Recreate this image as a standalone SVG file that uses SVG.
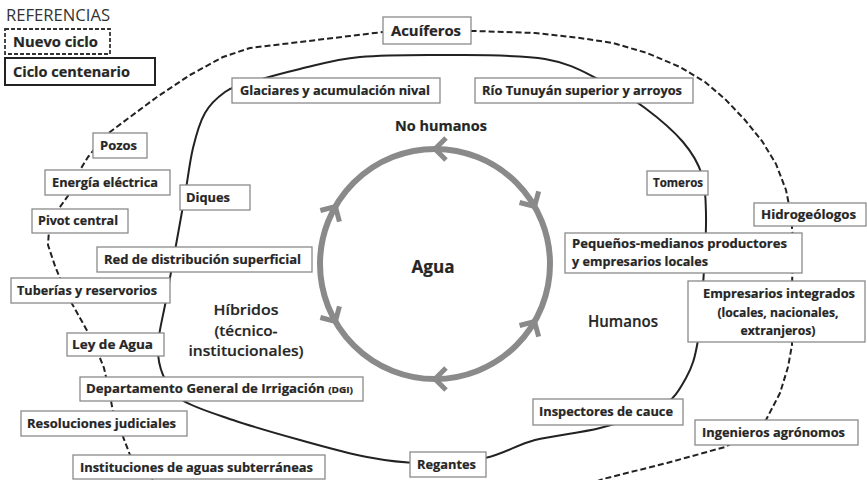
<svg xmlns="http://www.w3.org/2000/svg" width="867" height="480" viewBox="0 0 867 480">
<style>
.box{fill:#fff;stroke:#8a8a8a;stroke-width:1.3}
.t{font-family:"Open Sans","Noto Sans","DejaVu Sans",sans-serif;font-weight:700;font-size:12.5px;fill:#262626;stroke:#262626;stroke-width:0.2}
.big{font-size:15px;font-weight:600}
.solid{fill:none;stroke:#222;stroke-width:2}
.dash{fill:none;stroke:#222;stroke-width:2;stroke-dasharray:6 3;stroke-linejoin:round}
.chev{fill:none;stroke:#8a8a8a;stroke-width:5}
</style>
<defs>
<path id="chev" d="M 11,-11 L 0,0 L 11,11"/>
</defs>
<rect width="867" height="480" fill="#fff"/>

<g id="legend">
<text class="t" x="6" y="21" style="font-weight:400;font-size:16px;fill:#333;stroke:none" textLength="104" lengthAdjust="spacingAndGlyphs">REFERENCIAS</text>
<rect x="5" y="29" width="105" height="25" fill="#fff" stroke="#333" stroke-width="1.8" stroke-dasharray="4 2"/>
<text class="t" x="13" y="47" style="font-size:14.5px" textLength="85" lengthAdjust="spacingAndGlyphs">Nuevo ciclo</text>
<rect x="5" y="58" width="150" height="27" fill="#fff" stroke="#222" stroke-width="2"/>
<text class="t" x="13" y="77" style="font-size:14.5px" textLength="117" lengthAdjust="spacingAndGlyphs">Ciclo centenario</text>
</g>

<g id="connectors">
<path class="solid" d="M245,84 C257.5,80.2 280.8,73.5 300,69 C319.2,64.5 335,59.3 360,57 C385,54.7 419.2,54.7 450,55 C480.8,55.3 520,54.8 545,59 C570,63.2 583.3,71.8 600,80 C616.7,88.2 631.2,97.7 645,108 C658.8,118.3 673.5,130.8 683,142 C692.5,153.2 698.2,162.8 702,175 C705.8,187.2 705.7,199.2 706,215 C706.3,230.8 705.3,249.2 704,270 C702.7,290.8 701,322 698,340 C695,358 692.3,366.7 686,378 C679.7,389.3 674.3,399.7 660,408 C645.7,416.3 620.8,422.7 600,428 C579.2,433.3 554.2,435 535,440 C515.8,445 504.2,454.2 485,458 C465.8,461.8 439.7,463.2 420,463 C400.3,462.8 387,460.8 367,457 C347,453.2 322.3,446.2 300,440 C277.7,433.8 252.7,426.7 233,420 C213.3,413.3 193.7,407.5 182,400 C170.3,392.5 167,384.2 163,375 C159,365.8 157.5,357.5 158,345 C158.5,332.5 163,316.7 166,300 C169,283.3 172.8,262.5 176,245 C179.2,227.5 182.2,211.2 185,195 C187.8,178.8 189.7,161.7 193,148 C196.3,134.3 199.7,122.3 205,113 C210.3,103.7 218.3,96.8 225,92 C231.7,87.2 232.5,87.8 245,84 Z"/>
<polyline class="dash" points="160,492 148,474 130,455 122,434 113,412 110,395 104,368 94,343 80,318 66,293 55,266 48,245 49,230 55,214 70,193 80,170 88,157 98,145 110,132 130,117 157,97 190,75 223,57 250,48 300,42 350,36 383,32 430,30 475,31 535,33 580,38 613,43 647,53 680,67 705,82 725,99 745,120 762,141 776,164 786,190 791,215 793,240 792,290 792,345 788,367 780,393 766,420 745,436 725,447 667,463 603,479 560,495"/>
</g>

<g id="cycle">
<circle cx="435" cy="264" r="115" fill="none" stroke="#8a8a8a" stroke-width="6"/>
<use href="#chev" class="chev" transform="translate(435,149)"/>
<use href="#chev" class="chev" transform="translate(534.6,206.5) rotate(-120)"/>
<use href="#chev" class="chev" transform="translate(534.6,321.5) rotate(120)"/>
<use href="#chev" class="chev" transform="translate(435,379)"/>
<use href="#chev" class="chev" transform="translate(335.4,321.5) rotate(-120)"/>
<use href="#chev" class="chev" transform="translate(335.4,206.5) rotate(120)"/>
<text class="t" x="433" y="273" text-anchor="middle" style="font-size:18.5px" textLength="43" lengthAdjust="spacingAndGlyphs">Agua</text>
</g>

<g id="labels">
<text class="t" x="395" y="131" style="font-size:13.5px" textLength="92" lengthAdjust="spacingAndGlyphs">No humanos</text>
<text class="t big" x="246" y="315" text-anchor="middle" textLength="65" lengthAdjust="spacingAndGlyphs">Híbridos</text>
<text class="t big" x="246" y="336" text-anchor="middle" textLength="63" lengthAdjust="spacingAndGlyphs">(técnico-</text>
<text class="t big" x="246" y="356" text-anchor="middle" textLength="115" lengthAdjust="spacingAndGlyphs">institucionales)</text>
<text class="t" x="588" y="327" style="font-size:16px;font-weight:600" textLength="70" lengthAdjust="spacingAndGlyphs">Humanos</text>
</g>

<g id="acuiferos"><rect class="box" x="383" y="17" width="88" height="27"/><text class="t" x="391" y="36" style="font-size:14.5px" textLength="70" lengthAdjust="spacingAndGlyphs">Acuíferos</text></g>
<g id="glaciares"><rect class="box" x="232" y="78" width="208" height="25"/><text class="t" x="240" y="95" textLength="190" lengthAdjust="spacingAndGlyphs">Glaciares y acumulación nival</text></g>
<g id="rio"><rect class="box" x="475" y="78" width="218" height="25"/><text class="t" x="482" y="95" textLength="200" lengthAdjust="spacingAndGlyphs">Río Tunuyán superior y arroyos</text></g>
<g id="pozos"><rect class="box" x="93" y="133" width="54" height="25"/><text class="t" x="100" y="150" textLength="37" lengthAdjust="spacingAndGlyphs">Pozos</text></g>
<g id="energia"><rect class="box" x="45" y="170" width="125" height="25"/><text class="t" x="52" y="187" textLength="106" lengthAdjust="spacingAndGlyphs">Energía eléctrica</text></g>
<g id="diques"><rect class="box" x="180" y="185" width="70" height="25"/><text class="t" x="186" y="202" textLength="44" lengthAdjust="spacingAndGlyphs">Diques</text></g>
<g id="pivot"><rect class="box" x="32" y="209" width="96" height="24"/><text class="t" x="38" y="225" textLength="80" lengthAdjust="spacingAndGlyphs">Pivot central</text></g>
<g id="red"><rect class="box" x="97" y="247" width="215" height="25"/><text class="t" x="104" y="264" textLength="197" lengthAdjust="spacingAndGlyphs">Red de distribución superficial</text></g>
<g id="tuberias"><rect class="box" x="11" y="278" width="159" height="25"/><text class="t" x="17" y="295" textLength="140" lengthAdjust="spacingAndGlyphs">Tuberías y reservorios</text></g>
<g id="ley"><rect class="box" x="67" y="333" width="97" height="23"/><text class="t" x="72" y="349" textLength="81" lengthAdjust="spacingAndGlyphs">Ley de Agua</text></g>
<g id="dgi"><rect class="box" x="80" y="377" width="283" height="24"/><text class="t" x="86" y="393" textLength="267" lengthAdjust="spacingAndGlyphs">Departamento General de Irrigación <tspan style="font-size:9.5px">(DGI)</tspan></text></g>
<g id="resoluciones"><rect class="box" x="21" y="411" width="166" height="25"/><text class="t" x="27" y="428" textLength="149" lengthAdjust="spacingAndGlyphs">Resoluciones judiciales</text></g>
<g id="instituciones"><rect class="box" x="73" y="455" width="252" height="24"/><text class="t" x="80" y="472" textLength="233" lengthAdjust="spacingAndGlyphs">Instituciones de aguas subterráneas</text></g>
<g id="regantes"><rect class="box" x="410" y="452" width="76" height="25"/><text class="t" x="417" y="469" textLength="59" lengthAdjust="spacingAndGlyphs">Regantes</text></g>
<g id="inspectores"><rect class="box" x="533" y="399" width="150" height="26"/><text class="t" x="539" y="416" textLength="134" lengthAdjust="spacingAndGlyphs">Inspectores de cauce</text></g>
<g id="ingenieros"><rect class="box" x="695" y="420" width="163" height="25"/><text class="t" x="702" y="437" textLength="143" lengthAdjust="spacingAndGlyphs">Ingenieros agrónomos</text></g>
<g id="tomeros"><rect class="box" x="647" y="171" width="61" height="24"/><text class="t" x="653" y="187" textLength="50" lengthAdjust="spacingAndGlyphs">Tomeros</text></g>
<g id="hidrogeologos"><rect class="box" x="754" y="203" width="112" height="23"/><text class="t" x="761" y="219" textLength="95" lengthAdjust="spacingAndGlyphs">Hidrogeólogos</text></g>
<g id="pequenos"><rect class="box" x="565" y="233" width="237" height="40"/><text class="t" x="572" y="248" textLength="215" lengthAdjust="spacingAndGlyphs">Pequeños-medianos productores</text><text class="t" x="572" y="266" textLength="136" lengthAdjust="spacingAndGlyphs">y empresarios locales</text></g>
<g id="empresarios"><rect class="box" x="688" y="281" width="177" height="61"/><text class="t" x="779" y="298" text-anchor="middle" textLength="152" lengthAdjust="spacingAndGlyphs">Empresarios integrados</text><text class="t" x="778" y="317" text-anchor="middle" textLength="121" lengthAdjust="spacingAndGlyphs">(locales, nacionales,</text><text class="t" x="778" y="335" text-anchor="middle" textLength="75" lengthAdjust="spacingAndGlyphs">extranjeros)</text></g>
</svg>
